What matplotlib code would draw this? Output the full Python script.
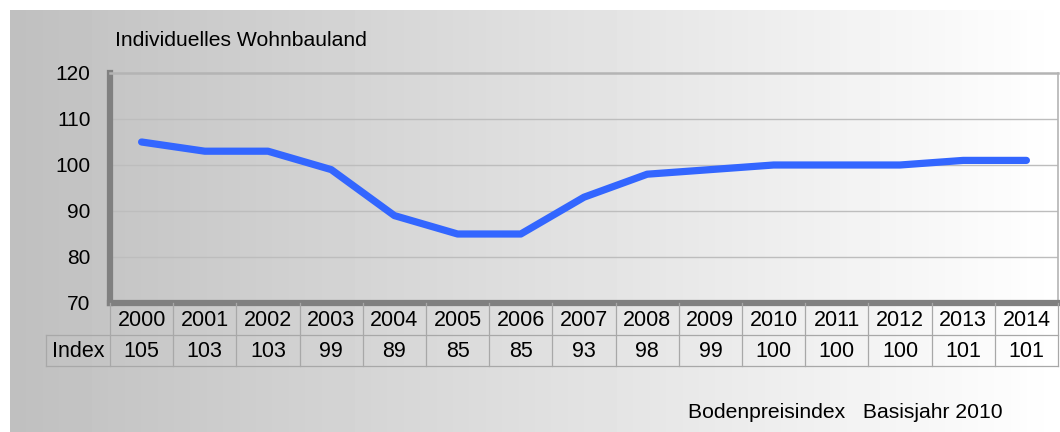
import numpy as np
import matplotlib.pyplot as plt
from matplotlib.lines import Line2D

plt.rcParams['font.family'] = ['Liberation Sans', 'DejaVu Sans']

# data
years = ['2000', '2001', '2002', '2003', '2004', '2005', '2006', '2007',
         '2008', '2009', '2010', '2011', '2012', '2013', '2014']
index_values = [105, 103, 103, 99, 89, 85, 85, 93, 98, 99, 100, 100, 100, 101, 101]
y_ticks = [70, 80, 90, 100, 110, 120]
title_text = 'Individuelles Wohnbauland'
footer_text = 'Bodenpreisindex   Basisjahr 2010'
row_label = 'Index'

W, H = 1060, 432
fig = plt.figure(figsize=(W / 100, H / 100), dpi=100)
fig.patch.set_facecolor('white')


def px_axes(x0, y0, x1, y1):
    # pixel box (top-left origin) -> figure axes
    return fig.add_axes([x0 / W, (H - y1) / H, (x1 - x0) / W, (y1 - y0) / H])


# gray gradient background
bg = px_axes(10, 10, W, H)
grad = np.linspace(0.75, 1.0, 256).reshape(1, -1)
bg.imshow(grad, cmap='gray', vmin=0, vmax=1, aspect='auto', extent=[0, 1, 0, 1])
bg.set_axis_off()

# main plot
ax = px_axes(110, 73, 1058, 303)
ax.set_facecolor('none')
x = np.arange(len(years))
ax.plot(x, index_values, color='#3366ff', lw=5.2, solid_capstyle='round',
        solid_joinstyle='round', zorder=3)
ax.set_xlim(-0.5, len(years) - 0.5)
ax.set_ylim(70, 120)
ax.set_yticks(y_ticks)
ax.set_yticklabels([str(t) for t in y_ticks], fontsize=15)
ax.tick_params(axis='y', length=0, pad=14)
ax.set_xticks([])
for t in y_ticks[1:-1]:
    ax.axhline(t, color='#bdbdbd', lw=1, zorder=1)
ax.spines['left'].set_color('#808080')
ax.spines['left'].set_linewidth(4.5)
ax.spines['bottom'].set_color('#808080')
ax.spines['bottom'].set_linewidth(4.5)
ax.spines['top'].set_color('#b4b4b4')
ax.spines['top'].set_linewidth(1.8)
ax.spines['right'].set_color('#b4b4b4')
ax.spines['right'].set_linewidth(1.2)

# data table under the chart
tb = px_axes(110, 303, 1058, 366)
tb.set_xlim(-0.5, len(years) - 0.5)
tb.set_ylim(2, 0)
tb.set_axis_off()
label_left = -0.5 - 64 / (948 / len(years))
line_kw = dict(color='#a8a8a8', lw=0.9, clip_on=False)
for i in range(len(years) + 1):
    tb.add_line(Line2D([i - 0.5, i - 0.5], [0, 2], **line_kw))
tb.add_line(Line2D([label_left, label_left], [1, 2], **line_kw))
for yy in (1, 2):
    tb.add_line(Line2D([label_left, len(years) - 0.5], [yy, yy], **line_kw))
for i, (yr, v) in enumerate(zip(years, index_values)):
    tb.text(i, 0.55, yr, ha='center', va='center', fontsize=15.5)
    tb.text(i, 1.55, str(v), ha='center', va='center', fontsize=15.5)
tb.text((label_left - 0.5) / 2, 1.55, row_label, ha='center', va='center',
        fontsize=15.5, clip_on=False)

fig.text(115 / W, 1 - 40 / H, title_text, ha='left', va='center', fontsize=15.2)
fig.text(688 / W, 1 - 413 / H, footer_text, ha='left', va='center', fontsize=15.2)

fig.savefig('out.png', dpi=100)
